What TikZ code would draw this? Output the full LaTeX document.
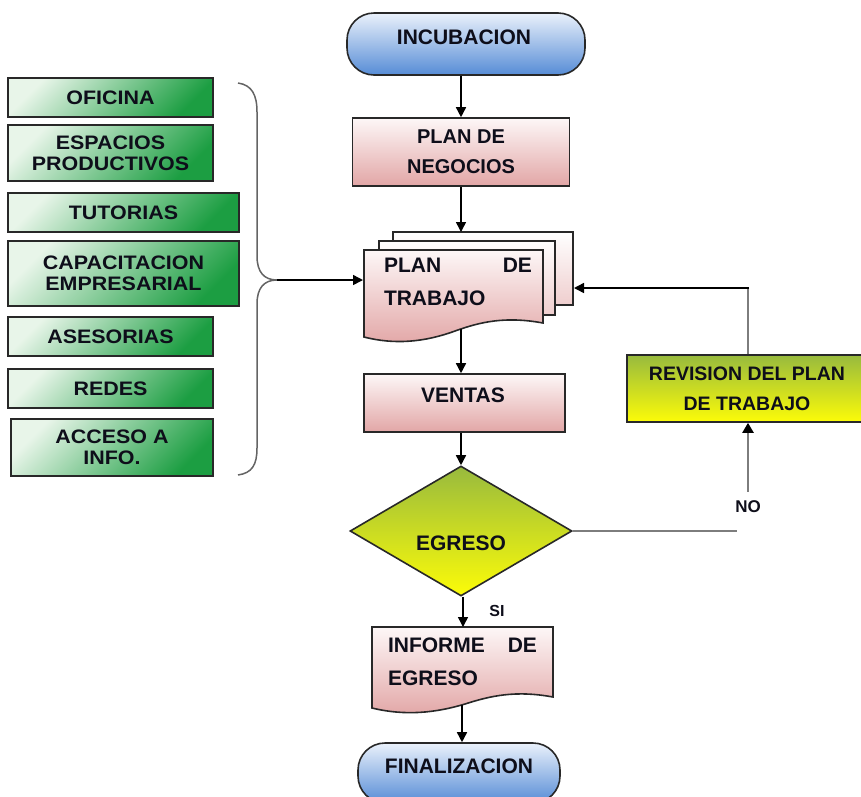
\documentclass[tikz,border=0pt]{standalone}
\usepackage{fontspec}
\setmainfont{Liberation Sans}
\newfontfamily\widefont{Liberation Sans}[FakeStretch=1.1]
\usetikzlibrary{arrows.meta,shapes.geometric}

\definecolor{ink}{RGB}{14,14,26}
\definecolor{edge}{RGB}{40,40,40}
\definecolor{pinkT}{RGB}{253,247,247}
\definecolor{pinkB}{RGB}{226,166,166}
\definecolor{blueT}{RGB}{234,241,251}
\definecolor{blueB}{RGB}{86,140,214}
\definecolor{greenL}{RGB}{232,245,233}
\definecolor{greenD}{RGB}{28,158,66}
\definecolor{oliveT}{RGB}{152,186,62}
\definecolor{yellowB}{RGB}{252,252,8}
\definecolor{wire}{RGB}{125,125,125}

\tikzset{
  lbl/.style={font=\fontsize{21}{33}\selectfont\bfseries, text=ink, inner sep=0pt},
  glbl/.style={font=\widefont\fontsize{19.5}{21}\selectfont\bfseries, text=ink, align=center, inner sep=0pt},
  box/.style={draw=edge, line width=1.6pt, inner sep=0pt},
  pinkbox/.style={box, top color=pinkT, bottom color=pinkB},
  pinkdoc/.style={draw=edge, line width=1.6pt, top color=pinkT, bottom color=pinkB},
  pinksheet/.style={draw=edge, line width=1.6pt, top color=white, bottom color=pinkB!55},
  bluebox/.style={box, rounded corners=27pt, top color=blueT, bottom color=blueB},
  greenbox/.style={box, line width=1.4pt, top color=greenL, bottom color=greenD, shading angle=45},
  yellowbox/.style={box, top color=oliveT, bottom color=yellowB},
  flow/.style={line width=1.5pt, draw=black, -{Triangle[length=10pt,width=10pt]}},
  wireline/.style={line width=2.2pt, draw=wire},
  wireflow/.style={line width=2.2pt, draw=wire, -{Triangle[length=10pt,width=11pt,color=black]}},
  bracket/.style={line width=1.5pt, draw=wire!80!black},
}

\begin{document}
\begin{tikzpicture}[x=1pt, y=-1pt]
\useasboundingbox (0,0) rectangle (861,796);
\clip (0,0) rectangle (861,796);

% ---- resources on the left ----
\node[greenbox, minimum width=205pt, minimum height=39pt] (ofi) at (110.5,97.5) {};
\node[glbl] (ofiT) at (ofi) {OFICINA};
\node[greenbox, minimum width=205pt, minimum height=56pt] (esp) at (110.5,153) {};
\node[glbl] (espT) at (esp) {ESPACIOS\\PRODUCTIVOS};
\node[greenbox, minimum width=231pt, minimum height=39pt] (tut) at (123.5,212.5) {};
\node[glbl] (tutT) at (tut) {TUTORIAS};
\node[greenbox, minimum width=231pt, minimum height=65pt] (cap) at (123.5,273.5) {};
\node[glbl] (capT) at (cap) {CAPACITACION\\EMPRESARIAL};
\node[greenbox, minimum width=205pt, minimum height=39pt] (ase) at (110.5,336.5) {};
\node[glbl] (aseT) at (ase) {ASESORIAS};
\node[greenbox, minimum width=205pt, minimum height=39pt] (red) at (110.5,388.5) {};
\node[glbl] (redT) at (red) {REDES};
\node[greenbox, minimum width=202pt, minimum height=57pt] (acc) at (112,447.5) {};
\node[glbl] (accT) at (acc) {ACCESO A\\INFO.};

% curly brace gathering the resources
\coordinate (bracetip) at (277,280);
\draw[bracket] (238,83) .. controls (252,85) and (257,95) .. (257,112)
  -- (257,256) .. controls (257,272) and (264,280) .. (bracetip)
  .. controls (264,280) and (257,288) .. (257,304)
  -- (257,448) .. controls (257,465) and (252,473) .. (238,475);

% ---- main flow ----
\node[bluebox, minimum width=238pt, minimum height=62pt] (incub) at (466,44) {};
\node[lbl] (incubT) at (464,37) {INCUBACION};

\node[pinkbox, minimum width=217pt, minimum height=68pt, lbl, align=center,
      font=\fontsize{20}{30}\selectfont\bfseries] (neg) at (461,152) {PLAN DE\\NEGOCIOS};

% stacked sheets: plan de trabajo
\path[pinksheet] (393,232) rectangle (573,305);
\path[pinksheet] (379,241) rectangle (555,315);
\path[pinkdoc] (364,250) -- (543,250) -- (543,323)
  .. controls (505,316) and (480,322) .. (455,331)
  .. controls (425,342) and (395,345) .. (364,337) -- cycle;
\node[lbl, text width=148pt, align=left] (trabT) at (458,281.5) {PLAN\hfill DE\\TRABAJO};
\coordinate (trabTop) at (461,232);
\coordinate (trabBot) at (461,329);
\coordinate (trabL) at (363,280);
\coordinate (trabR) at (574,288);

\node[pinkbox, minimum width=201pt, minimum height=58pt] (ventas) at (464.5,403) {};
\node[lbl] (ventasT) at (463,395) {VENTAS};

\node[diamond, draw=edge, line width=1.6pt, inner sep=0pt, aspect=1.708,
      minimum width=222pt, minimum height=130pt,
      top color=oliveT, bottom color=yellowB] (egreso) at (461,531) {};
\node[lbl] (egresoT) at (461,543) {EGRESO};

% informe de egreso (document shape)
\path[pinkdoc] (372,627) -- (553,627) -- (553,697)
  .. controls (515,690) and (490,696) .. (465,704)
  .. controls (435,713) and (405,716) .. (372,708) -- cycle;
\node[lbl, text width=149pt, align=left] (infT) at (462.5,661.5) {INFORME\hfill DE\\EGRESO};
\coordinate (infTop) at (463,627);
\coordinate (infBot) at (462,705);

\node[bluebox, minimum width=202pt, minimum height=60pt] (fin) at (459,773) {};
\node[lbl] (finT) at (459,766) {FINALIZACION};

% revision loop
\node[yellowbox, minimum width=240pt, minimum height=67pt, lbl, align=center,
      font=\fontsize{19.5}{30}\selectfont\bfseries] (rev) at (747,388.5) {REVISION DEL PLAN\\DE TRABAJO};
\node[lbl, font=\fontsize{17}{20}\selectfont\bfseries] (no) at (748,507) {NO};
\node[lbl, font=\fontsize{16}{20}\selectfont\bfseries] (si) at (497,611) {SI};
\coordinate (noEnd) at (737,531);
\coordinate (revCorner) at (748,288);

% ---- connectors ----
\draw[flow] (neg.north |- incub.south) -- (neg.north);
\draw[flow] (neg.south) -- (trabTop);
\draw[flow] (trabBot) -- (trabBot |- ventas.north);
\draw[flow] (ventas.south -| egreso.north) -- (egreso.north);
\draw[flow] (egreso.south -| infTop) -- (infTop);
\draw[flow] (infBot) -- (infBot |- fin.north);
\draw[flow] (bracetip) -- (trabL);
\draw[wireline] (egreso.east) -- (noEnd);
\draw[wireflow] ([yshift=9pt]no.north) -- (rev.south -| no.north);
\draw[wireline] (rev.north -| revCorner) -- ([yshift=-0.8pt]revCorner);
\draw[flow] ([xshift=1pt]revCorner) -- (trabR);
\end{tikzpicture}
\end{document}
